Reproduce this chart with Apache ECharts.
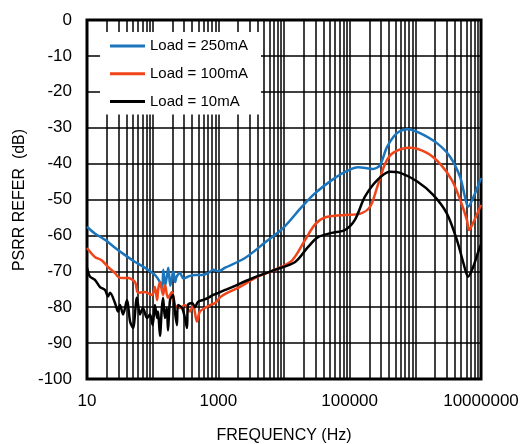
<html>
<head>
<script src="https://cdn.jsdelivr.net/npm/echarts@6/dist/echarts.min.js"></script>
</head>
<body style="margin:0">
<div id="chart" style="width:522px;height:444px;"></div>
<script type="text/javascript">
// frequency (Hz) / PSRR (dB)
var hz250 = [10, 13, 19, 27, 38, 54, 76, 108, 129, 140, 145, 155, 164, 173, 185, 195, 206, 220, 232, 261, 293, 345, 441, 560, 700, 836, 1000, 1270, 2550, 5130, 9660, 18800, 29500, 53500, 85000, 134000, 226000, 290000, 370000, 525000, 775000, 1180000, 2130000, 3360000, 4800000, 5700000, 6360000, 8100000, 10000000];
var db250 = [-57.6, -59.4, -61.3, -63.5, -65.5, -67.4, -69, -71, -73, -74.5, -69.6, -74, -71.5, -69, -74, -72, -70, -73, -71.5, -70.5, -72, -71.5, -71, -71, -70.5, -69.6, -70, -69, -66.3, -62, -58, -52, -48.3, -44.6, -42.3, -41, -41.5, -40.4, -35.4, -31.5, -30.4, -31.5, -34.3, -38, -43.7, -49.3, -52, -48.3, -44];

var hz100 = [10, 13.2, 16.7, 20.9, 26.7, 29.7, 35, 42, 53.8, 60, 76, 98, 108, 117, 121, 129, 144, 154, 171, 197, 218, 261, 310, 370, 412, 472, 524, 627, 750, 897, 1070, 1360, 2000, 4000, 7200, 13200, 20900, 29500, 42000, 85000, 143000, 205000, 263000, 347000, 458000, 830000, 1500000, 2370000, 3600000, 4800000, 6100000, 6600000, 7600000, 10000000];
var db100 = [-63.5, -66, -66.9, -68.8, -70.5, -71.5, -71.9, -71.9, -73, -76, -75.8, -76.6, -74.4, -78, -75.2, -73, -76.6, -73.8, -77.4, -75.8, -79.4, -80.2, -79.4, -81.2, -79.4, -84, -81.2, -80.2, -79.4, -78.8, -77.2, -76, -74.6, -71.5, -69.6, -67, -61.3, -57, -55, -54.3, -54, -52, -46.5, -40, -37, -35.6, -37, -40, -44.6, -50, -55.7, -58.5, -56.5, -51.5];

var hz10 = [10, 11.1, 13.2, 15.8, 18.8, 20.9, 22.4, 26.7, 29.7, 31.8, 35.4, 40.7, 45.3, 50.2, 57.6, 64, 71, 82, 91, 100, 108, 117, 121, 129, 138, 144, 154, 165, 171, 184, 204, 218, 234, 243, 280, 310, 333, 345, 398, 441, 490, 584, 700, 836, 1000, 1270, 1620, 3240, 7200, 14800, 23300, 33000, 53500, 85000, 120000, 170000, 263000, 410000, 590000, 1070000, 1870000, 3000000, 4300000, 5400000, 6360000, 7600000, 9300000, 10000000];
var db10 = [-69, -71.5, -72.4, -74.4, -75.2, -77, -76, -78.8, -81.2, -79.4, -82, -78, -84, -85.8, -77.4, -82, -80.2, -83, -82, -85, -79.4, -83, -81.2, -88, -80.2, -77.4, -83, -80.2, -86.5, -78, -76.6, -81.2, -85, -79.4, -80.2, -83, -85.8, -79.4, -78.8, -80, -78.5, -78, -77.4, -76.6, -76, -75.2, -74.4, -72, -69.6, -67.4, -63.2, -60.5, -59.3, -58.5, -55.7, -49.3, -44.6, -42.3, -42.6, -45, -48.7, -53.8, -61.3, -67.7, -71.5, -68.8, -64, -62.5];

var names = ['Load = 250mA', 'Load = 100mA', 'Load = 10mA'];
var colors = ['#1b75bc', '#f0451a', '#000000'];

function pairs(xs, ys) {
    var out = [];
    for (var i = 0; i < xs.length; i++) out.push([xs[i], ys[i]]);
    return out;
}

// log grid: every 1..9 x decade
var gridHz = [];
for (var e = 1; e < 7; e++) {
    for (var k = 1; k < 10; k++) {
        if (e == 1 && k == 1) continue;
        gridHz.push({xAxis: k * Math.pow(10, e)});
    }
}

var chart = echarts.init(document.getElementById('chart'));
var font = 'Liberation Sans, Arial, sans-serif';
var series = [{
    type: 'line',
    data: [],
    silent: true,
    z: 1,
    markLine: {
        silent: true,
        z: 1,
        symbol: ['none', 'none'],
        label: {show: false},
        lineStyle: {color: '#000', width: 1.5, type: 'solid'},
        emphasis: {disabled: true},
        animation: false,
        data: gridHz
    }
}];
var sets = [[hz250, db250], [hz100, db100], [hz10, db10]];
for (var s = 0; s < 3; s++) {
    series.push({
        name: names[s],
        type: 'line',
        symbol: 'none',
        smooth: 0.3,
        data: pairs(sets[s][0], sets[s][1]),
        lineStyle: {color: colors[s], width: 2.5},
        itemStyle: {color: colors[s]}
    });
}

chart.setOption({
    animation: false,
    grid: {
        left: 87, right: 41, top: 20, bottom: 65,
        containLabel: false, outerBoundsMode: 'none',
        show: true, borderColor: '#000', borderWidth: 3
    },
    graphic: [{
        type: 'text',
        x: 20,
        y: 200,
        rotation: Math.PI / 2,
        style: {
            text: 'PSRR REFER  (dB)',
            fill: '#000',
            font: '16px Liberation Sans, Arial, sans-serif',
            align: 'center',
            verticalAlign: 'middle'
        }
    }],
    legend: {
        data: names,
        orient: 'vertical',
        left: 100,
        top: 32,
        z: 10,
        padding: [1, 13, 0, 10],
        itemWidth: 35,
        itemHeight: 3,
        itemGap: 2,
        icon: 'rect',
        backgroundColor: '#fff',
        textStyle: {fontSize: 15, fontFamily: font, color: '#000'}
    },
    xAxis: {
        type: 'log',
        logBase: 10,
        min: 10,
        max: 10000000,
        splitNumber: 6,
        name: 'FREQUENCY (Hz)',
        nameLocation: 'middle',
        nameGap: 43,
        nameTextStyle: {fontSize: 16, fontFamily: font, color: '#000'},
        axisLine: {show: false},
        axisTick: {show: false},
        splitLine: {show: false},
        axisLabel: {
            fontSize: 17, fontFamily: font, color: '#000', margin: 8,
            formatter: function (v) {
                var p = Math.round(Math.log10(v));
                return (p % 2 == 1) ? String(Math.pow(10, p)) : '';
            }
        }
    },
    yAxis: {
        type: 'value',
        min: -100,
        max: 0,
        interval: 10,
        axisLine: {show: false},
        axisTick: {show: false},
        splitLine: {lineStyle: {color: '#000', width: 1.5}},
        axisLabel: {fontSize: 17, fontFamily: font, color: '#000', margin: 15}
    },
    series: series
});
</script>
</body>
</html>
